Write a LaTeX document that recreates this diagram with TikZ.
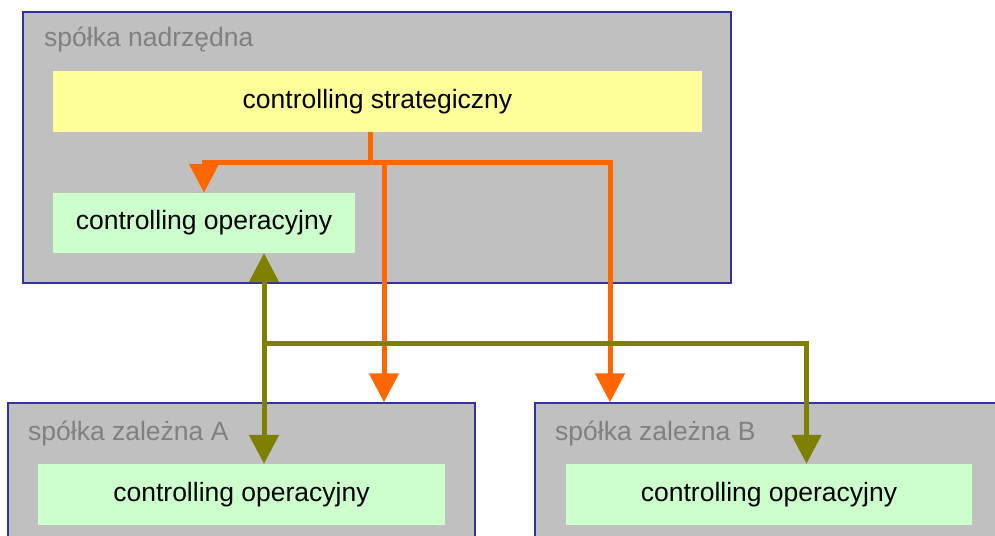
\documentclass[tikz,border=0pt]{standalone}
\usepackage{fontspec}
\setmainfont{Liberation Sans}
\usetikzlibrary{arrows.meta}
\definecolor{boxgray}{HTML}{C0C0C0}
\definecolor{boxblue}{HTML}{3333A0}
\definecolor{stratyellow}{HTML}{FFFF99}
\definecolor{opgreen}{HTML}{CCFFCC}
\definecolor{linkorange}{HTML}{FF6600}
\definecolor{linkolive}{HTML}{808000}
\tikzset{
  company/.style={draw=boxblue,line width=1.5pt,fill=boxgray,inner sep=0pt},
  unit/.style={inner sep=0pt,font=\fontsize{26.5}{31}\selectfont},
  caption/.style={anchor=base west,inner sep=0pt,text=black!50,font=\fontsize{26.5}{31}\selectfont},
  orangelink/.style={draw=linkorange,line width=5pt,-{Triangle[width=29pt,length=29pt]}},
  olivelink/.style={draw=linkolive,line width=5pt,-{Triangle[width=29pt,length=29pt]}}
}
\begin{document}
\begin{tikzpicture}[x=1pt,y=-1pt]
\useasboundingbox (0,0) rectangle (995,535);
\node[company,minimum width=708,minimum height=271] (parent) at (377,147.5) {};
\node[company,minimum width=467,minimum height=142] (subA) at (241.5,474) {};
\node[company,minimum width=470,minimum height=142] (subB) at (770,474) {};
\node[caption] (parentlbl) at (44,47) {spółka nadrzędna};
\node[caption] (subAlbl) at (28,440) {spółka zależna A};
\node[caption] (subBlbl) at (555,440) {spółka zależna B};
\node[unit,fill=stratyellow,minimum width=649,minimum height=61] (strat) at (377.5,101.5) {controlling strategiczny};
\node[unit,fill=opgreen,minimum width=302,minimum height=60] (opTop) at (204,223) {controlling operacyjny};
\node[unit,fill=opgreen,minimum width=407,minimum height=61] (opA) at (241.5,494.5) {controlling operacyjny};
\node[unit,fill=opgreen,minimum width=406,minimum height=61] (opB) at (769,494.5) {controlling operacyjny};
% strategic links
\coordinate (split) at (370,162);
\coordinate (inA) at ([xshift=142.5]subA.north);
\coordinate (inB) at ([xshift=-160]subB.north);
\draw[draw=linkorange,line width=5pt] ([xshift=-7.5]strat.south) -- (split);
\draw[orangelink] (split) -| (opTop.north);
\draw[orangelink] (split) -| (inA);
\draw[orangelink] (split) -| (inB);
% operational links
\coordinate (upT) at ([xshift=60]opTop.south);
\coordinate (downA) at ([xshift=22.5]opA.north);
\coordinate (downB) at ([xshift=37.5]opB.north);
\coordinate (fork) at (264,343);
\draw[olivelink,{Triangle[width=29pt,length=29pt]}-{Triangle[width=29pt,length=29pt]}] (upT) -- (downA);
\draw[olivelink] (fork) -| (downB);
\end{tikzpicture}
\end{document}
